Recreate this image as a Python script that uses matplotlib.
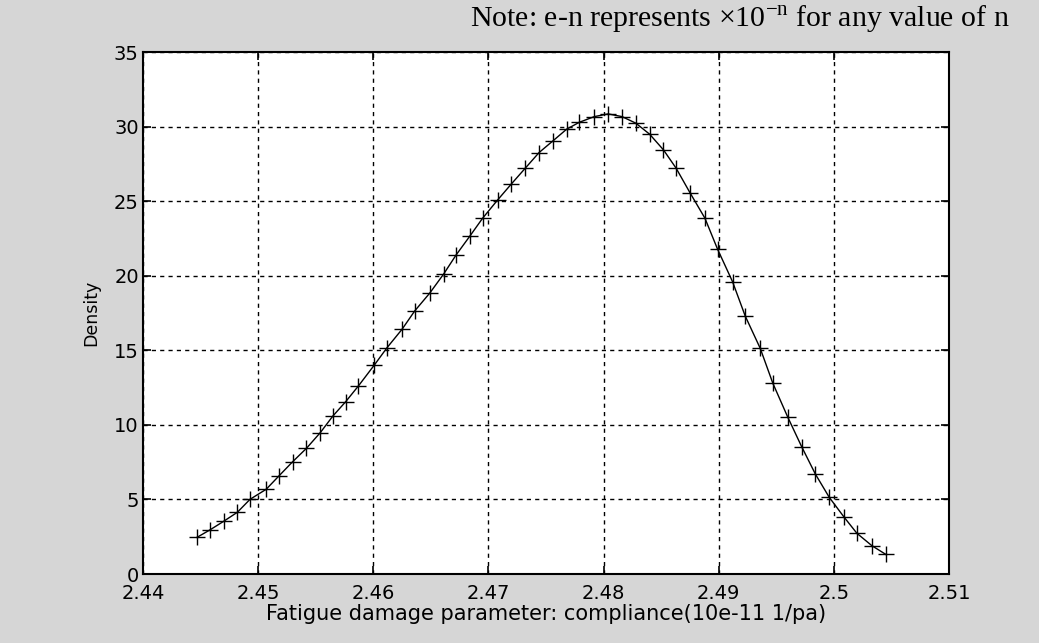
import matplotlib
matplotlib.use("Agg")
import matplotlib.pyplot as plt

compliance = [2.4447, 2.4458, 2.4470, 2.4482, 2.4493, 2.4507, 2.4518, 2.4530, 2.4542, 2.4554,
              2.4565, 2.4576, 2.4587, 2.4601, 2.4612, 2.4625, 2.4636, 2.4649, 2.4661, 2.4672,
              2.4684, 2.4695, 2.4708, 2.4720, 2.4732, 2.4744, 2.4756, 2.4768, 2.4779, 2.4792,
              2.4804, 2.4816, 2.4828, 2.4840, 2.4852, 2.4863, 2.4875, 2.4888, 2.4899, 2.4912,
              2.4923, 2.4936, 2.4947, 2.4960, 2.4972, 2.4984, 2.4996, 2.5009, 2.5020, 2.5033,
              2.5045]
density = [2.46, 2.95, 3.53, 4.14, 5.01, 5.68, 6.57, 7.53, 8.43, 9.48,
           10.60, 11.55, 12.60, 14.02, 15.18, 16.41, 17.64, 18.83, 20.10, 21.40,
           22.67, 23.86, 25.08, 26.16, 27.21, 28.26, 29.04, 29.83, 30.29, 30.67,
           30.85, 30.67, 30.23, 29.49, 28.44, 27.21, 25.57, 23.86, 21.78, 19.60,
           17.30, 15.14, 12.79, 10.51, 8.54, 6.69, 5.14, 3.80, 2.73, 1.90,
           1.32]
xticks = [2.44, 2.45, 2.46, 2.47, 2.48, 2.49, 2.50, 2.51]
xticklabels = ["2.44", "2.45", "2.46", "2.47", "2.48", "2.49", "2.5", "2.51"]
yticks = [0, 5, 10, 15, 20, 25, 30, 35]

plt.rcParams['font.family'] = ['DejaVu Sans']

fig = plt.figure(figsize=(10.39, 6.43), dpi=100, facecolor='#d6d6d6')
ax = fig.add_axes([0.1376, 0.1073, 0.7758, 0.8118])
ax.set_facecolor('white')

ax.plot(compliance, density, color='black', linewidth=1.0, marker='+',
        markersize=11, markeredgewidth=1.0)

ax.set_xlim(2.44, 2.51)
ax.set_ylim(0, 35)
ax.set_xticks(xticks)
ax.set_xticklabels(xticklabels)
ax.set_yticks(yticks)
ax.grid(True, color='black', linestyle=(0, (3, 3)), linewidth=1.0)
ax.tick_params(direction='in', length=6, width=1.2, labelsize=14, colors='black',
               top=True, right=True)
ax.tick_params(axis='x', pad=7)
ax.tick_params(axis='y', pad=3)
for s in ax.spines.values():
    s.set_linewidth(1.5)
    s.set_color('black')

ax.set_xlabel("Fatigue damage parameter: compliance(10e-11 1/pa)", fontsize=15, labelpad=1)
ax.set_ylabel("Density", fontsize=12.5, labelpad=10)

fig.text(0.972, 0.956, "Note: e-n represents \u00d710$^{\\mathregular{-n}}$ for any value of n",
         ha='right', va='baseline', fontsize=21.5, family=['Liberation Serif', 'DejaVu Serif'])

fig.savefig("out.png", dpi=100, facecolor=fig.get_facecolor())
